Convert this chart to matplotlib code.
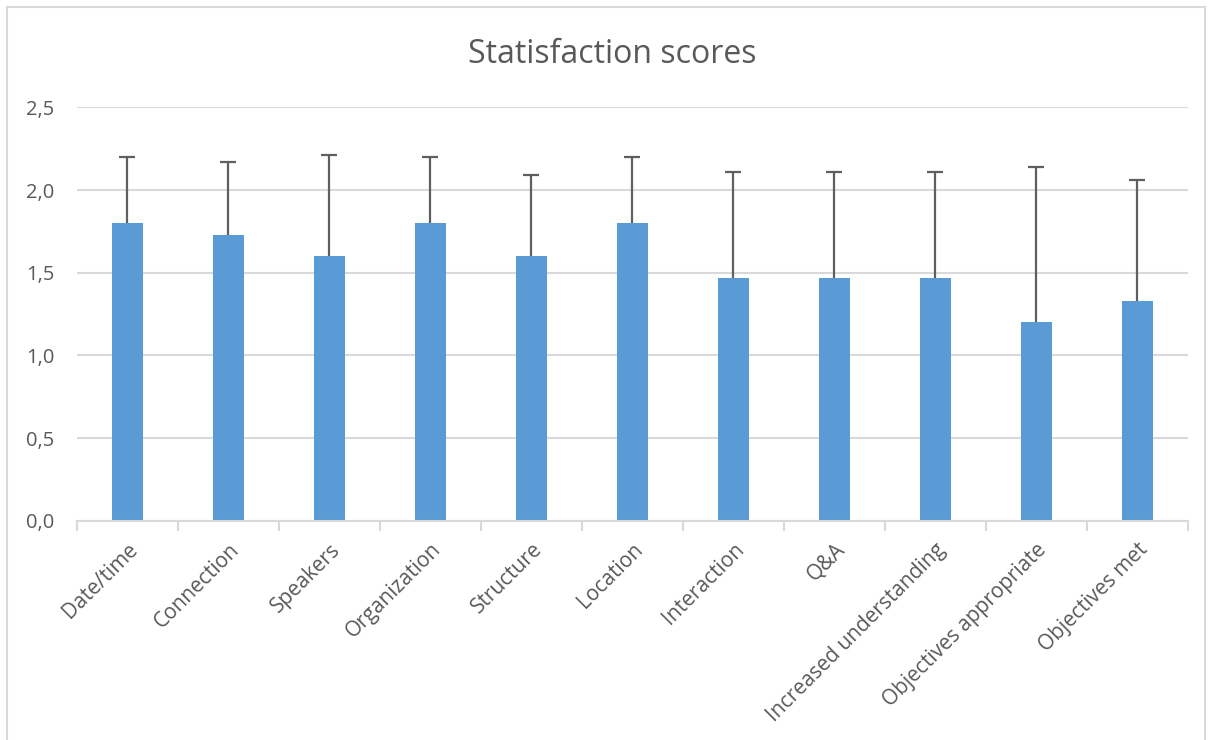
import matplotlib.pyplot as plt
import matplotlib.patches as patches
import numpy as np

# chart data
categories = ['Date/time', 'Connection', 'Speakers', 'Organization', 'Structure',
              'Location', 'Interaction', 'Q&A', 'Increased understanding',
              'Objectives appropriate', 'Objectives met']
scores = [1.80, 1.73, 1.60, 1.80, 1.60, 1.80, 1.47, 1.47, 1.47, 1.20, 1.33]
errors = [0.40, 0.44, 0.61, 0.40, 0.49, 0.40, 0.64, 0.64, 0.64, 0.94, 0.73]
yticks = [0.0, 0.5, 1.0, 1.5, 2.0, 2.5]

plt.rcParams['font.family'] = ['Open Sans', 'DejaVu Sans']
text_col = '#595959'
grid_col = '#d9d9d9'

fig = plt.figure(figsize=(12.12, 7.4), dpi=100)
ax = fig.add_axes([0.0635, 0.296, 0.9165, 0.559])

# light frame round the whole chart
fig.patches.append(patches.Rectangle((7 / 1212, -0.01), 1198 / 1212, 1 - 7 / 740 + 0.01,
                                     transform=fig.transFigure, fill=False,
                                     edgecolor=grid_col, lw=1.5))

x = np.arange(len(categories))
ax.bar(x, scores, width=0.31, color='#5b9bd5', zorder=3)
_, caps, _ = ax.errorbar(x, scores, yerr=[np.zeros(len(errors)), errors], fmt='none',
                         ecolor='#5f5f5f', elinewidth=1.6, capsize=6, capthick=1.6,
                         zorder=4)
caps[0].set_visible(False)  # plus-only error bars, no cap on the bar top

ax.set_xlim(-0.5, len(categories) - 0.5)
ax.set_ylim(0, 2.5)
ax.set_yticks(yticks)
ax.set_yticklabels(['{:.1f}'.format(v).replace('.', ',') for v in yticks])
ax.yaxis.grid(True, color=grid_col, lw=1.5, zorder=0)
ax.tick_params(axis='y', length=0, pad=16, labelsize=14.5, labelcolor=text_col)

# category ticks sit on the boundaries, labels at the centres
ax.set_xticks(np.arange(len(categories) + 1) - 0.5)
ax.set_xticklabels([])
ax.set_xticks(x, minor=True)
ax.set_xticklabels(categories, minor=True, rotation=45, ha='right',
                   rotation_mode='anchor', fontsize=15, color=text_col)
ax.tick_params(axis='x', which='minor', length=0, pad=13)
ax.tick_params(axis='x', which='major', length=7, width=1.5, color=grid_col)

for side in ['top', 'right', 'left']:
    ax.spines[side].set_visible(False)
ax.spines['bottom'].set_color(grid_col)
ax.spines['bottom'].set_linewidth(1.5)
ax.spines['bottom'].set_zorder(5)

fig.text(0.505, 0.927, 'Statisfaction scores', ha='center', va='center',
         fontsize=23, color=text_col)

fig.savefig('out.png', dpi=100)
